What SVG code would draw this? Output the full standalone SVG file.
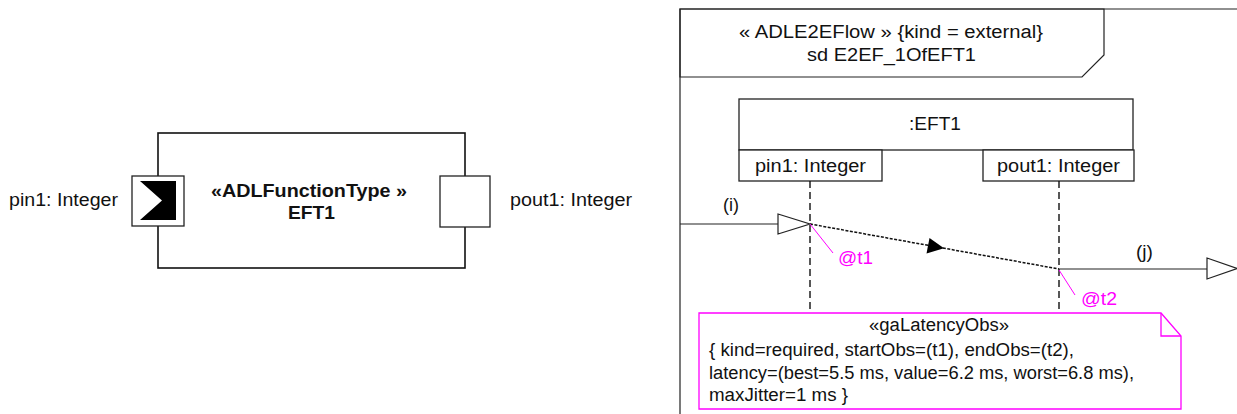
<svg xmlns="http://www.w3.org/2000/svg" width="1237" height="414" viewBox="0 0 1237 414">
<style>
text{font-family:"Liberation Sans",Arial,sans-serif;font-size:18px;fill:#111}
.b{font-weight:bold}
.m{fill:#ff00ff}
.ln{fill:none;stroke:#222;stroke-width:1.2}
.blk{fill:#fff;stroke:#111;stroke-width:1.6}
.box{fill:#fff;stroke:#222;stroke-width:1.3}
.life{fill:none;stroke:#111;stroke-width:1.4;stroke-dasharray:7 4}
.mg{fill:none;stroke:#ff00ff;stroke-width:1}
</style>
<rect width="1237" height="414" fill="#fff"/>
<g id="eft1-block">
<rect class="blk" x="158" y="133" width="307" height="135"/>
<text class="b" x="211" y="197" textLength="196" lengthAdjust="spacingAndGlyphs">«ADLFunctionType »</text>
<text class="b" x="288" y="219" textLength="47" lengthAdjust="spacingAndGlyphs">EFT1</text>
</g>
<g id="port-pin1">
<rect class="box" x="132" y="176" width="52" height="50"/>
<polygon points="140,181 176,181 176,220 140,220 162,200.5" fill="#000"/>
<text x="9" y="206" textLength="109" lengthAdjust="spacingAndGlyphs">pin1: Integer</text>
</g>
<g id="port-pout1">
<rect class="box" x="440" y="176" width="50" height="51"/>
<text x="510" y="206" textLength="122" lengthAdjust="spacingAndGlyphs">pout1: Integer</text>
</g>
<g id="sd-frame">
<polyline class="ln" points="680,420 680,9 1245,9"/>
<polygon class="ln" points="680,9 1104,9 1104,55 1082,77 680,77"/>
<text x="739" y="38" textLength="304" lengthAdjust="spacingAndGlyphs">« ADLE2EFlow » {kind = external}</text>
<text x="807" y="61" textLength="169" lengthAdjust="spacingAndGlyphs">sd E2EF_1OfEFT1</text>
</g>
<g id="lifeline-eft1">
<rect class="box" x="739" y="99" width="394" height="51"/>
<text x="909" y="130" textLength="52" lengthAdjust="spacingAndGlyphs">:EFT1</text>
</g>
<g id="lifeline-pin1">
<rect class="box" x="739" y="150" width="143" height="31"/>
<text x="755" y="172" textLength="111" lengthAdjust="spacingAndGlyphs">pin1: Integer</text>
<line class="life" x1="810" y1="181" x2="810" y2="320"/>
</g>
<g id="lifeline-pout1">
<rect class="box" x="983" y="150" width="151" height="31"/>
<text x="997" y="172" textLength="123" lengthAdjust="spacingAndGlyphs">pout1: Integer</text>
<line class="life" x1="1059" y1="181" x2="1059" y2="318"/>
</g>
<g id="connectors">
<line class="ln" x1="680" y1="224" x2="778" y2="224"/>
<polygon points="778,214 810,224 778,234" fill="#fff" stroke="#222" stroke-width="1.2"/>
<text x="723" y="211" textLength="16" lengthAdjust="spacingAndGlyphs">(i)</text>
<line x1="810" y1="224" x2="1059" y2="269" stroke="#111" stroke-width="1.5" stroke-dasharray="3 1.5"/>
<polygon points="944,248.2 926.5,253.5 929.5,238" fill="#000"/>
<line class="ln" x1="1059" y1="269" x2="1207" y2="269"/>
<polygon points="1207,258 1237,268.5 1207,279" fill="#fff" stroke="#222" stroke-width="1.2"/>
<text x="1136" y="258" textLength="17" lengthAdjust="spacingAndGlyphs">(j)</text>
<line class="mg" x1="810" y1="224" x2="833" y2="253"/>
<text class="m" x="838" y="264" textLength="35" lengthAdjust="spacingAndGlyphs">@t1</text>
<line class="mg" x1="1059" y1="270" x2="1075" y2="295"/>
<text class="m" x="1081" y="305" textLength="36" lengthAdjust="spacingAndGlyphs">@t2</text>
</g>
<g id="latency-note">
<polygon points="699,313 1161,313 1181,336 1181,409 699,409" fill="#fff" stroke="#ff00ff" stroke-width="1.3"/>
<polyline points="1161,313 1161,336 1181,336" fill="none" stroke="#ff00ff" stroke-width="1.3"/>
<text x="869" y="331" textLength="140" lengthAdjust="spacingAndGlyphs">«gaLatencyObs»</text>
<text x="709" y="356" textLength="365" lengthAdjust="spacingAndGlyphs">{ kind=required, startObs=(t1), endObs=(t2),</text>
<text x="709" y="379" textLength="425" lengthAdjust="spacingAndGlyphs">latency=(best=5.5 ms, value=6.2 ms, worst=6.8 ms),</text>
<text x="709" y="401" textLength="139" lengthAdjust="spacingAndGlyphs">maxJitter=1 ms }</text>
</g>
</svg>
